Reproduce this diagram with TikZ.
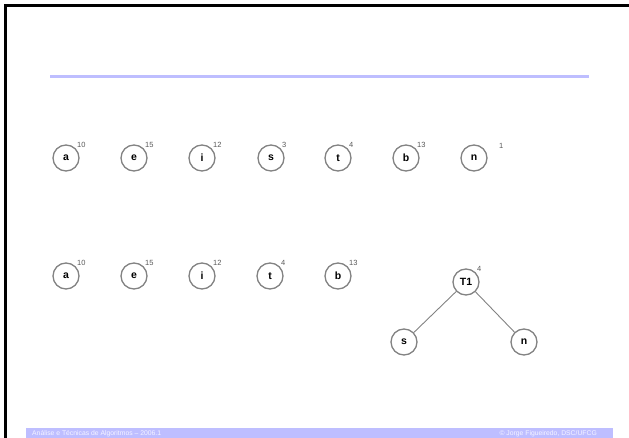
\documentclass[tikz,border=0pt]{standalone}
\usepackage{fontspec}
\setmainfont{Liberation Sans}
\usetikzlibrary{calc}

\definecolor{lilac}{RGB}{190,190,255}
\definecolor{ring}{RGB}{130,130,130}

\tikzset{
    leaf/.style={circle, draw=ring, line width=1.3pt, minimum size=26pt, inner sep=0pt, font=\fontsize{10.5}{10.5}\selectfont\bfseries},
    freq/.style={font=\fontsize{7.5}{7.5}\selectfont, text=black!65, inner sep=0pt},
    edge/.style={draw=ring, line width=0.9pt},
    foot/.style={font=\fontsize{6.8}{6.8}\selectfont, text=white!85!lilac, inner sep=0pt}
}

\begin{document}
\begin{tikzpicture}[x=1pt, y=-1pt]
    \useasboundingbox (0,0) rectangle (629,438);

    % frame and title rule
    \draw [line width=3pt] (5.5,438) -- (5.5,6) -- (629,6);
    \draw [lilac, line width=3pt] (50,77) -- (589,77);

    % forest before the merge
    \node [leaf] (a1) at (66,158) {a};
    \node [leaf] (e1) at (134,158) {e};
    \node [leaf] (i1) at (202,158) {i};
    \node [leaf] (s1) at (271,158) {s};
    \node [leaf] (t1) at (338,158) {t};
    \node [leaf] (b1) at (406,158) {b};
    \node [leaf] (n1) at (474,158) {n};
    \node [freq, anchor=south west] at ($(a1)+(11,-10)$) {10};
    \node [freq, anchor=south west] at ($(e1)+(11,-10)$) {15};
    \node [freq, anchor=south west] at ($(i1)+(11,-10)$) {12};
    \node [freq, anchor=south west] at ($(s1)+(11,-10)$) {3};
    \node [freq, anchor=south west] at ($(t1)+(11,-10)$) {4};
    \node [freq, anchor=south west] at ($(b1)+(11,-10)$) {13};
    \node [freq, anchor=south west] at ($(n1)+(25,-9)$) {1};

    % forest after the merge
    \node [leaf] (a2) at (66,276) {a};
    \node [leaf] (e2) at (134,276) {e};
    \node [leaf] (i2) at (202,276) {i};
    \node [leaf] (t2) at (270,276) {t};
    \node [leaf] (b2) at (338,276) {b};
    \node [freq, anchor=south west] at ($(a2)+(11,-10)$) {10};
    \node [freq, anchor=south west] at ($(e2)+(11,-10)$) {15};
    \node [freq, anchor=south west] at ($(i2)+(11,-10)$) {12};
    \node [freq, anchor=south west] at ($(t2)+(11,-10)$) {4};
    \node [freq, anchor=south west] at ($(b2)+(11,-10)$) {13};

    \node [leaf] (T1) at (466,282) {T1};
    \node [leaf] (s2) at (404,342) {s};
    \node [leaf] (n2) at (524,342) {n};
    \node [freq, anchor=south west] at ($(T1)+(11,-10)$) {4};
    \draw [edge] (T1) -- (s2);
    \draw [edge] (T1) -- (n2);

    % footer
    \fill [lilac] (26,428) rectangle (613,438);
    \node [foot, anchor=west] (course) at (32,433.5) {Análise e Técnicas de Algoritmos – 2006.1};
    \node [foot, anchor=east] (author) at (597,433.5) {© Jorge Figueiredo, DSC/UFCG};
\end{tikzpicture}
\end{document}
